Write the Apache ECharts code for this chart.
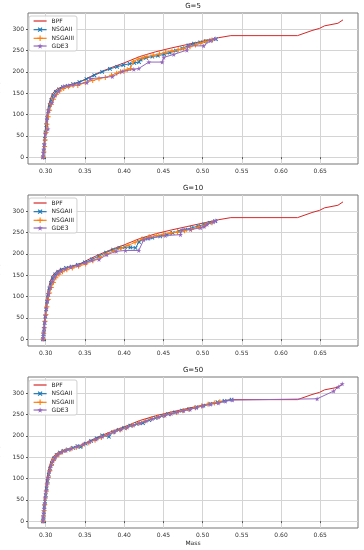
<!DOCTYPE html>
<html><head><meta charset="utf-8">
<script src="https://cdn.jsdelivr.net/npm/echarts@6/dist/echarts.min.js"></script>
<style>html,body{margin:0;padding:0;background:#fff}#c{width:364px;height:550px}</style>
</head><body><div id="c"></div>
<script>
// ---------- DATA ----------
const panelTitles = ['G=5', 'G=10', 'G=50'];
const seriesNames = ['BPF', 'NSGAII', 'NSGAIII', 'GDE3'];
const xTicks = [0.30, 0.35, 0.40, 0.45, 0.50, 0.55, 0.60, 0.65];
const yTicks = [0, 50, 100, 150, 200, 250, 300];

// Best Pareto front (same in all panels)
const bpfMass  = [0.2966, 0.2972, 0.2978, 0.2985, 0.2993, 0.3002, 0.3012, 0.3025, 0.304, 0.306, 0.3085, 0.312, 0.316, 0.321, 0.327, 0.335, 0.345, 0.357, 0.37, 0.385, 0.40, 0.42, 0.44, 0.46, 0.48, 0.50, 0.52, 0.536, 0.621, 0.6395, 0.649, 0.6555, 0.6725, 0.6745, 0.679];
const bpfPower = [0, 15, 30, 45, 60, 78, 95, 110, 123, 136, 148, 156, 161, 165, 168, 172, 178, 189, 200, 211, 221, 236, 247, 256, 264, 272, 280, 285, 285, 297, 302, 308, 314, 316, 322];

// G=5
const g5Nsga2Mass  = [0.2968, 0.2975, 0.2982, 0.299, 0.2998, 0.3008, 0.302, 0.3035, 0.3052, 0.3072, 0.3098, 0.313, 0.317, 0.322, 0.328, 0.335, 0.343, 0.352, 0.362, 0.372, 0.382, 0.391, 0.399, 0.407, 0.413, 0.419, 0.421, 0.428, 0.436, 0.443, 0.451, 0.458, 0.466, 0.474, 0.482, 0.489, 0.497, 0.504, 0.511, 0.517];
const g5Nsga2Power = [0, 14, 28, 43, 58, 75, 92, 108, 122, 134, 145, 153, 159, 164, 167, 171, 176, 183, 192, 200, 207, 212, 216, 219, 221, 223, 229, 233, 236, 238, 241, 245, 250, 255, 262, 266, 269, 272, 274, 277];
const g5Nsga3Mass  = [0.2972, 0.2978, 0.2986, 0.2995, 0.3005, 0.3017, 0.3032, 0.305, 0.3072, 0.310, 0.3135, 0.318, 0.323, 0.329, 0.335, 0.341, 0.3505, 0.36, 0.368, 0.376, 0.384, 0.3906, 0.3954, 0.400, 0.404, 0.408, 0.412, 0.418, 0.424, 0.429, 0.437, 0.445, 0.453, 0.461, 0.469, 0.476, 0.484, 0.491, 0.497, 0.504, 0.512];
const g5Nsga3Power = [0, 12, 25, 40, 58, 77, 95, 110, 124, 136, 147, 155, 161, 165, 168, 168, 175, 180, 184, 187, 192, 197, 200, 202, 205, 208, 225, 230, 233, 236, 239, 242, 246, 249, 252, 255, 259, 263, 267, 271, 275];
const g5Gde3Mass   = [0.2966, 0.2972, 0.2978, 0.2984, 0.2996, 0.303, 0.3017, 0.3038, 0.308, 0.312, 0.3165, 0.323, 0.329, 0.335, 0.342, 0.3525, 0.3573, 0.385, 0.3976, 0.4124, 0.4187, 0.4315, 0.4485, 0.4506, 0.4633, 0.480, 0.482, 0.5014, 0.510, 0.516];
const g5Gde3Power  = [0, 10, 19, 30, 54, 66, 89, 108, 128, 144, 155, 166, 168, 170, 172, 175, 184, 189, 201, 206, 208, 223, 223, 234, 241, 251, 261, 261, 273, 278];

// G=10
const g10Nsga2Mass  = [0.2966, 0.2972, 0.2979, 0.2987, 0.2996, 0.3006, 0.3018, 0.3032, 0.3048, 0.3068, 0.3092, 0.3122, 0.316, 0.3205, 0.326, 0.333, 0.341, 0.35, 0.359, 0.368, 0.377, 0.386, 0.394, 0.401, 0.408, 0.4145, 0.419, 0.4245, 0.430, 0.436, 0.446, 0.454, 0.462, 0.470, 0.478, 0.486, 0.494, 0.502, 0.509, 0.516];
const g10Nsga2Power = [0, 12, 24, 38, 53, 70, 88, 104, 119, 132, 143, 152, 158, 163, 167, 170, 174, 180, 187, 195, 203, 210, 214, 216, 215, 214, 228, 235, 236, 238, 241, 245, 249, 253, 257, 261, 265, 269, 273, 277];
const g10Nsga3Mass  = [0.2968, 0.2975, 0.2983, 0.2992, 0.3003, 0.3016, 0.3032, 0.305, 0.3072, 0.3098, 0.313, 0.317, 0.3215, 0.327, 0.334, 0.342, 0.351, 0.36, 0.369, 0.378, 0.387, 0.396, 0.405, 0.414, 0.423, 0.432, 0.441, 0.45, 0.459, 0.468, 0.477, 0.486, 0.495, 0.504, 0.512];
const g10Nsga3Power = [0, 13, 27, 42, 58, 76, 93, 108, 121, 133, 144, 152, 158, 163, 167, 171, 176, 184, 192, 200, 207, 213, 220, 227, 235, 240, 243, 246, 249, 251, 254, 258, 263, 268, 273];
const g10Gde3Mass   = [0.2966, 0.2971, 0.2976, 0.2982, 0.299, 0.2999, 0.301, 0.3024, 0.304, 0.306, 0.3085, 0.3115, 0.315, 0.3195, 0.325, 0.332, 0.341, 0.351, 0.359, 0.368, 0.378, 0.39, 0.4018, 0.4187, 0.425, 0.4315, 0.4527, 0.4718, 0.474, 0.4845, 0.4975, 0.502, 0.5057, 0.514, 0.517];
const g10Gde3Power  = [0, 8, 17, 27, 40, 55, 72, 90, 106, 121, 135, 146, 154, 160, 165, 169, 173, 179, 185, 187, 198, 206, 208, 208, 233, 237, 243, 245, 257, 257, 261, 264, 269, 275, 278];

// G=50
const g50Nsga2Mass  = [0.2966, 0.2971, 0.2977, 0.2984, 0.2992, 0.3001, 0.3012, 0.3025, 0.304, 0.3058, 0.308, 0.3107, 0.314, 0.318, 0.3228, 0.3285, 0.335, 0.3405, 0.3445, 0.351, 0.358, 0.365, 0.372, 0.3806, 0.386, 0.393, 0.40, 0.408, 0.416, 0.424, 0.432, 0.44, 0.448, 0.456, 0.465, 0.474, 0.483, 0.492, 0.501, 0.51, 0.519, 0.528, 0.537];
const g50Nsga2Power = [0, 10, 21, 33, 46, 61, 77, 94, 109, 123, 136, 147, 155, 161, 165, 168, 172, 176, 174, 182, 188, 194, 201, 198, 209, 214, 219, 224, 228, 230, 237, 242, 247, 251, 255, 259, 263, 267, 271, 275, 279, 282, 285];
const g50Nsga3Mass  = [0.2967, 0.2973, 0.298, 0.2988, 0.2997, 0.3008, 0.3021, 0.3036, 0.3054, 0.3075, 0.31, 0.313, 0.3166, 0.321, 0.326, 0.332, 0.339, 0.347, 0.355, 0.363, 0.371, 0.379, 0.387, 0.395, 0.403, 0.411, 0.419, 0.427, 0.435, 0.443, 0.451, 0.459, 0.467, 0.475, 0.483, 0.491, 0.499, 0.507, 0.515, 0.522];
const g50Nsga3Power = [0, 12, 25, 39, 54, 70, 87, 103, 118, 131, 142, 151, 157, 162, 166, 169, 173, 178, 184, 190, 196, 203, 209, 214, 219, 225, 230, 235, 240, 244, 248, 252, 255, 259, 262, 266, 270, 274, 277, 280];
const g50Gde3Mass   = [0.2966, 0.297, 0.2975, 0.2981, 0.2988, 0.2996, 0.3006, 0.3018, 0.3032, 0.3049, 0.307, 0.3095, 0.3125, 0.316, 0.3205, 0.326, 0.3325, 0.34, 0.348, 0.356, 0.364, 0.372, 0.38, 0.388, 0.396, 0.404, 0.412, 0.42, 0.428, 0.436, 0.444, 0.452, 0.46, 0.468, 0.476, 0.484, 0.492, 0.50, 0.51, 0.52, 0.529, 0.538, 0.646, 0.667, 0.673, 0.678];
const g50Gde3Power  = [0, 9, 19, 30, 42, 56, 71, 87, 102, 117, 130, 141, 150, 157, 162, 166, 170, 175, 180, 186, 192, 198, 204, 210, 215, 220, 225, 230, 235, 240, 244, 248, 252, 256, 259, 262, 266, 270, 274, 277, 281, 284, 287, 305, 315, 322];

// ---------- CHART ----------
const zip = (a, b) => a.map((v, i) => [v, b[i]]);
const panels = [
  [[bpfMass, bpfPower], [g5Nsga2Mass, g5Nsga2Power], [g5Nsga3Mass, g5Nsga3Power], [g5Gde3Mass, g5Gde3Power]],
  [[bpfMass, bpfPower], [g10Nsga2Mass, g10Nsga2Power], [g10Nsga3Mass, g10Nsga3Power], [g10Gde3Mass, g10Gde3Power]],
  [[bpfMass, bpfPower], [g50Nsga2Mass, g50Nsga2Power], [g50Nsga3Mass, g50Nsga3Power], [g50Gde3Mass, g50Gde3Power]]
];
const colors = ['#d62728', '#1f77b4', '#ff7f0e', '#9467bd'];
const PLUS = 'path://M4,0H6V4H10V6H6V10H4V6H0V4H4Z';
const STAR = 'path://M50,0L61,35H98L68,57L79,91L50,70L21,91L32,57L2,35H39Z';
const symbols = ['none', PLUS, PLUS, STAR];
const rotates = [0, 45, 0, 0];
const sizes = [0, 5, 5, 5];
const FONT = 'DejaVu Sans';
const tops = [13, 195, 377];
const H = 151;

const legendData = seriesNames.map((n, i) => i === 0
  ? { name: n, itemStyle: { opacity: 0 } }
  : { name: n });

const option = {
  animation: false,
  backgroundColor: '#fff',
  textStyle: { fontFamily: FONT },
  title: panelTitles.map((t, i) => ({
    text: t, left: 193, top: tops[i] - 10, textAlign: 'center', padding: 0,
    textStyle: { fontFamily: FONT, fontSize: 7, fontWeight: 'normal', color: '#222' }
  })),
  legend: panels.map((p, i) => ({
    data: legendData, left: 29, top: tops[i] + 3, orient: 'vertical',
    itemWidth: 13, itemHeight: 7, itemGap: 1.7, padding: [2, 3, 2, 4],
    lineStyle: { width: 1.2 },
    backgroundColor: 'rgba(255,255,255,0.85)', borderColor: '#d0d0d0', borderWidth: 1, borderRadius: 2,
    textStyle: { fontFamily: FONT, fontSize: 6, color: '#222' }
  })),
  grid: tops.map(t => ({
    left: 28, right: 6, top: t, height: H, show: true, borderColor: '#777', borderWidth: 1,
    backgroundColor: 'transparent', containLabel: false, outerBoundsMode: 'none'
  })),
  xAxis: tops.map((t, i) => ({
    type: 'value', gridIndex: i, min: 0.2775, max: 0.6981,
    name: i === 2 ? 'Mass' : '', nameLocation: 'middle', nameGap: 12,
    nameTextStyle: { fontFamily: FONT, fontSize: 6, color: '#222' },
    axisLine: { show: false },
    axisTick: { show: true, length: 2, customValues: xTicks, lineStyle: { color: '#555' } },
    axisLabel: { customValues: xTicks, fontFamily: FONT, fontSize: 6, color: '#333', margin: 4,
      formatter: v => v.toFixed(2) },
    splitLine: { show: true, lineStyle: { color: '#d4d4d4', width: 1 } }
  })),
  yAxis: tops.map((t, i) => ({
    type: 'value', gridIndex: i, min: -16.1, max: 338.1,
    name: 'Power', nameLocation: 'middle', nameGap: 19,
    nameTextStyle: { fontFamily: FONT, fontSize: 6, color: '#222' },
    axisLine: { show: false },
    axisTick: { show: true, length: 2, customValues: yTicks, lineStyle: { color: '#555' } },
    axisLabel: { customValues: yTicks, fontFamily: FONT, fontSize: 6, color: '#333', margin: 4 },
    splitLine: { show: true, lineStyle: { color: '#d4d4d4', width: 1 } }
  })),
  series: []
};

panels.forEach((p, gi) => {
  p.forEach((d, si) => {
    option.series.push({
      type: 'line', name: seriesNames[si], xAxisIndex: gi, yAxisIndex: gi,
      data: zip(d[0], d[1]),
      symbol: symbols[si], symbolSize: sizes[si], symbolRotate: rotates[si],
      showSymbol: si !== 0,
      lineStyle: { color: colors[si], width: 1 },
      itemStyle: { color: colors[si] },
      z: 2 + si
    });
  });
});

const chart = echarts.init(document.getElementById('c'), null, { renderer: 'canvas' });
chart.setOption(option);
</script>
</body></html>
